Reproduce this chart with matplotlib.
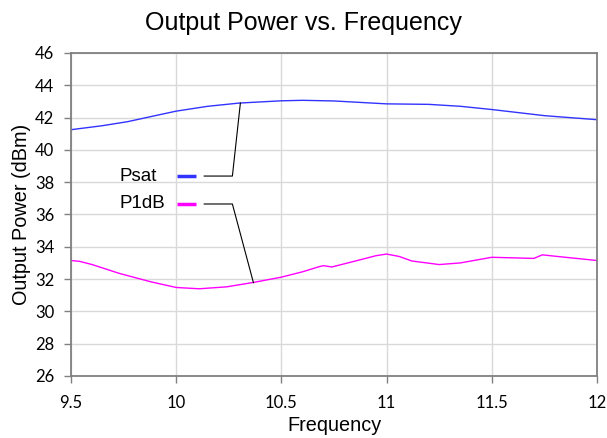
import matplotlib
matplotlib.use("Agg")
import matplotlib.pyplot as plt

# Data
psat_freq = [9.5, 9.65, 9.77, 9.9, 10.0, 10.15, 10.3, 10.5, 10.6, 10.75, 11.0, 11.2, 11.35, 11.5, 11.75, 12.0]
psat_vals = [41.25, 41.5, 41.75, 42.12, 42.4, 42.7, 42.9, 43.04, 43.07, 43.03, 42.85, 42.82, 42.7, 42.5, 42.12, 41.87]

p1db_freq = [9.5, 9.54, 9.6, 9.73, 9.88, 10.0, 10.11, 10.24, 10.37, 10.5, 10.6, 10.68, 10.7,
             10.74, 10.87, 10.95, 11.0, 11.06, 11.12, 11.25, 11.35, 11.5, 11.7, 11.74, 11.85, 12.0]
p1db_vals = [33.15, 33.1, 32.9, 32.35, 31.83, 31.48, 31.4, 31.52, 31.8, 32.12, 32.45, 32.77, 32.83,
             32.75, 33.18, 33.45, 33.55, 33.4, 33.12, 32.9, 33.0, 33.35, 33.28, 33.5, 33.35, 33.15]

x_ticks = [9.5, 10, 10.5, 11, 11.5, 12]
x_tick_labels = ["9.5", "10", "10.5", "11", "11.5", "12"]
y_ticks = [26, 28, 30, 32, 34, 36, 38, 40, 42, 44, 46]

series_names = ["Psat", "P1dB"]
series_colors = ["#3333ff", "#ff00ff"]

fig = plt.figure(figsize=(6.07, 4.38), dpi=100)
ax = fig.add_axes([0.117, 0.1416, 0.8665, 0.7374])

ax.plot(psat_freq, psat_vals, color=series_colors[0], lw=1.0)
ax.plot(p1db_freq, p1db_vals, color=series_colors[1], lw=1.0)

ax.set_xlim(9.5, 12)
ax.set_ylim(26, 46)
ax.set_xticks(x_ticks)
ax.set_xticklabels(x_tick_labels)
ax.set_yticks(y_ticks)
ax.grid(True, color="#d9d9d9", lw=1.0)
ax.set_axisbelow(True)

for s in ax.spines.values():
    s.set_color("#808080")
    s.set_linewidth(1.3)

ax.tick_params(axis="both", colors="#808080", labelcolor="black", labelsize=12, length=5, width=1)
for lab in ax.get_xticklabels() + ax.get_yticklabels():
    lab.set_family("Lato")
ax.tick_params(axis="x", pad=9)
ax.tick_params(axis="y", pad=7)

fig.text(0.5, 1 - 30 / 438, "Output Power vs. Frequency", fontsize=18, family="Liberation Sans",
         ha="center", va="baseline")
ax.set_xlabel("Frequency", fontsize=14.3, family="Liberation Sans", labelpad=3)
ax.set_ylabel("Output Power (dBm)", fontsize=14.3, family="Liberation Sans", labelpad=3)

# Legend-style labels with leader lines
lab_y = [38.38, 36.65]
targets = [(10.305, 42.9), (10.367, 31.78)]
for name, col, yy, (tx, ty) in zip(series_names, series_colors, lab_y, targets):
    ax.text(9.73, yy, name, fontsize=13.5, family="Liberation Sans", va="center", ha="left")
    ax.plot([10.005, 10.095], [yy, yy], color=col, lw=2.5, solid_capstyle="butt")
    ax.plot([10.133, 10.267, tx], [yy, yy, ty], color="black", lw=0.8)

fig.savefig("out.png", dpi=100)
